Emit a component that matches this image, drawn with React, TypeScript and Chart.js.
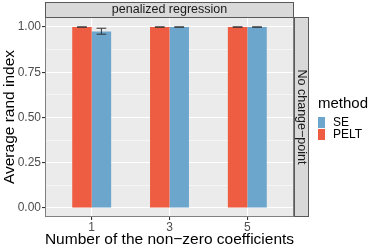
import React, { useEffect, useRef } from "react";
import { Chart, registerables } from "chart.js";

Chart.register(...registerables);

const categories = ["1", "3", "5"];
const peltValues = [1.0, 1.0, 1.0];
const peltLow = [0.999, 0.999, 0.999];
const peltHigh = [1.0, 1.0, 1.0];
const seValues = [0.975, 1.0, 1.0];
const seLow = [0.96, 0.999, 0.999];
const seHigh = [0.993, 1.0, 1.0];
const yTickValues = [0, 0.25, 0.5, 0.75, 1.0];
const yMinorValues = [0.125, 0.375, 0.625, 0.875];

const FONT = "'Liberation Sans', Arial, sans-serif";
const PELT_COLOR = "#EE5C42";
const SE_COLOR = "#6CA6CD";

export default function App() {
  const ref = useRef<HTMLCanvasElement>(null);

  useEffect(() => {
    document.body.style.margin = "0";
    const canvas = ref.current!;
    const lows = [peltLow, seLow];
    const highs = [peltHigh, seHigh];

    const plugin = {
      id: "ggdecor",
      beforeDraw(chart: any) {
        const { ctx, chartArea: a } = chart;
        ctx.save();
        ctx.fillStyle = "#EBEBEB";
        ctx.fillRect(a.left, a.top, a.right - a.left, a.bottom - a.top);
        ctx.restore();
      },
      afterDatasetsDraw(chart: any) {
        const { ctx, chartArea: a, scales } = chart;
        ctx.save();
        ctx.strokeStyle = "#333333";
        ctx.lineWidth = 1;
        chart.data.datasets.forEach((_: any, di: number) => {
          const meta = chart.getDatasetMeta(di);
          meta.data.forEach((bar: any, i: number) => {
            const half = bar.width / 4;
            const yl = scales.y.getPixelForValue(lows[di][i]);
            const yh = scales.y.getPixelForValue(highs[di][i]);
            ctx.beginPath();
            ctx.moveTo(bar.x - half, yl);
            ctx.lineTo(bar.x + half, yl);
            ctx.moveTo(bar.x - half, yh);
            ctx.lineTo(bar.x + half, yh);
            ctx.moveTo(bar.x, yl);
            ctx.lineTo(bar.x, yh);
            ctx.stroke();
          });
        });
        // panel border
        ctx.strokeStyle = "#808080";
        ctx.strokeRect(a.left + 0.5, a.top + 0.5, a.right - a.left - 1, a.bottom - a.top - 1);

        // top strip
        const stripH = 15;
        ctx.fillStyle = "#D9D9D9";
        ctx.fillRect(a.left, a.top - stripH, a.right - a.left, stripH);
        ctx.strokeStyle = "#595959";
        ctx.strokeRect(a.left + 0.5, a.top - stripH + 0.5, a.right - a.left - 1, stripH);
        ctx.fillStyle = "#1A1A1A";
        ctx.font = `12.5px ${FONT}`;
        ctx.textAlign = "center";
        ctx.textBaseline = "middle";
        ctx.fillText("penalized regression", (a.left + a.right) / 2, a.top - stripH / 2 + 0.5);

        // right strip
        ctx.fillStyle = "#D9D9D9";
        ctx.fillRect(a.right, a.top, stripH, a.bottom - a.top);
        ctx.strokeStyle = "#595959";
        ctx.strokeRect(a.right + 0.5, a.top + 0.5, stripH - 1, a.bottom - a.top - 1);
        ctx.save();
        ctx.translate(a.right + stripH / 2, (a.top + a.bottom) / 2);
        ctx.rotate(Math.PI / 2);
        ctx.fillStyle = "#1A1A1A";
        ctx.fillText("No change\u2212point", 0, 0.5);
        ctx.restore();

        // axis titles
        ctx.fillStyle = "#000000";
        ctx.font = `15.5px ${FONT}`;
        ctx.fillText("Number of the non\u2212zero coefficients", (a.left + a.right) / 2, 240);
        ctx.save();
        ctx.translate(10, (a.top + a.bottom) / 2);
        ctx.rotate(-Math.PI / 2);
        ctx.fillText("Average rand index", 0, 0);
        ctx.restore();

        // legend
        ctx.textAlign = "left";
        ctx.font = `15px ${FONT}`;
        ctx.fillText("method", 318, 104);
        ctx.fillStyle = SE_COLOR;
        ctx.fillRect(318, 117, 7, 11);
        ctx.fillStyle = PELT_COLOR;
        ctx.fillRect(318, 129, 7, 11);
        ctx.fillStyle = "#000000";
        ctx.font = `12px ${FONT}`;
        ctx.fillText("SE", 333, 122.5);
        ctx.fillText("PELT", 333, 134.5);
        ctx.restore();
      },
    };

    const chart = new Chart(canvas, {
      type: "bar",
      data: {
        datasets: [
          {
            label: "PELT",
            data: peltValues.map((v, i) => ({ x: i + 1, y: v })),
            backgroundColor: PELT_COLOR,
            borderWidth: 0,
          },
          {
            label: "SE",
            data: seValues.map((v, i) => ({ x: i + 1, y: v })),
            backgroundColor: SE_COLOR,
            borderWidth: 0,
          },
        ],
      },
      options: {
        animation: false,
        responsive: false,
        maintainAspectRatio: false,
        layout: { padding: { top: 17, right: 80, left: 0, bottom: 0 } },
        plugins: { legend: { display: false }, tooltip: { enabled: false } },
        datasets: { bar: { categoryPercentage: 0.5, barPercentage: 1.0 } },
        scales: {
          x: {
            type: "linear",
            min: 0.4,
            max: 3.6,
            offset: false,
            afterBuildTicks: (s: any) => {
              s.ticks = categories.map((_, i) => ({ value: i + 1 }));
            },
            afterFit: (s: any) => {
              s.height = 32;
            },
            ticks: {
              callback: (v: any) => categories[Number(v) - 1] ?? "",
              color: "#4D4D4D",
              font: { family: FONT, size: 12 },
              padding: 0,
              maxRotation: 0,
              autoSkip: false,
            },
            grid: {
              offset: false,
              color: "#FFFFFF",
              lineWidth: 1.1,
              tickLength: 3,
              tickColor: "#333333",
              drawOnChartArea: true,
            },
            border: { display: false },
          },
          y: {
            type: "linear",
            min: -0.05,
            max: 1.055,
            afterBuildTicks: (s: any) => {
              s.ticks = [...yTickValues, ...yMinorValues]
                .sort((p, q) => p - q)
                .map((v) => ({ value: v }));
            },
            afterFit: (s: any) => {
              s.width = 45;
            },
            ticks: {
              callback: (v: any) =>
                yTickValues.includes(Number(v)) ? Number(v).toFixed(2) : "",
              color: "#4D4D4D",
              font: { family: FONT, size: 12 },
              padding: 1,
              autoSkip: false,
            },
            grid: {
              color: "#FFFFFF",
              lineWidth: (c: any) =>
                c.tick && yTickValues.includes(c.tick.value) ? 1.1 : 0.5,
              tickLength: 3,
              tickColor: (c: any) =>
                c.tick && yTickValues.includes(c.tick.value) ? "#333333" : "rgba(0,0,0,0)",
            },
            border: { display: false },
          },
        },
      },
      plugins: [plugin],
    } as any);
    return () => chart.destroy();
  }, []);

  return (
    <div style={{ width: 374, height: 249 }}>
      <canvas ref={ref} width={374} height={249} style={{ width: 374, height: 249, display: "block" }} />
    </div>
  );
}
